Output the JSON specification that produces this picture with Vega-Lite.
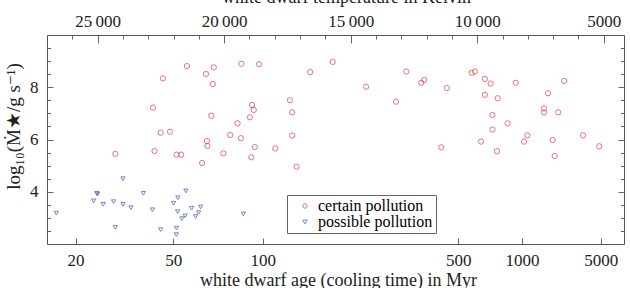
{
  "$schema": "https://vega.github.io/schema/vega-lite/v6.json",
  "width": 577,
  "height": 209,
  "autosize": {"type": "none"},
  "padding": {"left": 47, "top": 35, "right": 6, "bottom": 44},
  "background": "white",
  "config": {
    "view": {"stroke": "#555", "strokeWidth": 1},
    "axis": {
      "domain": false, "grid": false, "tickColor": "#666", "tickWidth": 1,
      "labelFont": "Liberation Serif", "labelFontSize": 17, "labelColor": "#222",
      "titleFont": "Liberation Serif", "titleFontSize": 18, "titleFontWeight": "normal", "titleColor": "#222"
    }
  },
  "datasets": {
    "pts": [
      {"T": 24300, "logM": 5.45, "type": "certain pollution"},
      {"T": 22810, "logM": 7.22, "type": "certain pollution"},
      {"T": 22750, "logM": 5.56, "type": "certain pollution"},
      {"T": 22510, "logM": 6.26, "type": "certain pollution"},
      {"T": 22420, "logM": 8.34, "type": "certain pollution"},
      {"T": 22140, "logM": 6.30, "type": "certain pollution"},
      {"T": 21880, "logM": 5.42, "type": "certain pollution"},
      {"T": 21700, "logM": 5.42, "type": "certain pollution"},
      {"T": 21470, "logM": 8.81, "type": "certain pollution"},
      {"T": 20870, "logM": 5.10, "type": "certain pollution"},
      {"T": 20720, "logM": 8.51, "type": "certain pollution"},
      {"T": 20680, "logM": 5.94, "type": "certain pollution"},
      {"T": 20660, "logM": 5.75, "type": "certain pollution"},
      {"T": 20510, "logM": 6.91, "type": "certain pollution"},
      {"T": 20450, "logM": 8.12, "type": "certain pollution"},
      {"T": 20410, "logM": 8.76, "type": "certain pollution"},
      {"T": 20030, "logM": 5.47, "type": "certain pollution"},
      {"T": 19760, "logM": 6.17, "type": "certain pollution"},
      {"T": 19470, "logM": 6.62, "type": "certain pollution"},
      {"T": 19340, "logM": 6.05, "type": "certain pollution"},
      {"T": 19320, "logM": 8.90, "type": "certain pollution"},
      {"T": 18980, "logM": 6.85, "type": "certain pollution"},
      {"T": 18930, "logM": 5.32, "type": "certain pollution"},
      {"T": 18900, "logM": 7.32, "type": "certain pollution"},
      {"T": 18830, "logM": 7.13, "type": "certain pollution"},
      {"T": 18790, "logM": 5.71, "type": "certain pollution"},
      {"T": 18620, "logM": 8.88, "type": "certain pollution"},
      {"T": 17980, "logM": 5.66, "type": "certain pollution"},
      {"T": 17400, "logM": 7.50, "type": "certain pollution"},
      {"T": 17310, "logM": 7.04, "type": "certain pollution"},
      {"T": 17310, "logM": 6.15, "type": "certain pollution"},
      {"T": 17140, "logM": 4.96, "type": "certain pollution"},
      {"T": 16600, "logM": 8.58, "type": "certain pollution"},
      {"T": 15710, "logM": 8.97, "type": "certain pollution"},
      {"T": 14390, "logM": 8.02, "type": "certain pollution"},
      {"T": 13210, "logM": 7.45, "type": "certain pollution"},
      {"T": 12800, "logM": 8.60, "type": "certain pollution"},
      {"T": 12210, "logM": 8.17, "type": "certain pollution"},
      {"T": 12090, "logM": 8.28, "type": "certain pollution"},
      {"T": 11420, "logM": 5.70, "type": "certain pollution"},
      {"T": 11200, "logM": 7.97, "type": "certain pollution"},
      {"T": 10220, "logM": 8.55, "type": "certain pollution"},
      {"T": 10090, "logM": 8.60, "type": "certain pollution"},
      {"T": 9850, "logM": 5.92, "type": "certain pollution"},
      {"T": 9700, "logM": 8.32, "type": "certain pollution"},
      {"T": 9700, "logM": 7.71, "type": "certain pollution"},
      {"T": 9470, "logM": 8.14, "type": "certain pollution"},
      {"T": 9400, "logM": 6.94, "type": "certain pollution"},
      {"T": 9400, "logM": 6.38, "type": "certain pollution"},
      {"T": 9220, "logM": 5.55, "type": "certain pollution"},
      {"T": 9190, "logM": 7.58, "type": "certain pollution"},
      {"T": 8800, "logM": 6.62, "type": "certain pollution"},
      {"T": 8480, "logM": 8.17, "type": "certain pollution"},
      {"T": 8150, "logM": 5.92, "type": "certain pollution"},
      {"T": 8020, "logM": 6.16, "type": "certain pollution"},
      {"T": 7360, "logM": 7.19, "type": "certain pollution"},
      {"T": 7360, "logM": 7.03, "type": "certain pollution"},
      {"T": 7200, "logM": 7.77, "type": "certain pollution"},
      {"T": 7020, "logM": 5.98, "type": "certain pollution"},
      {"T": 6940, "logM": 5.37, "type": "certain pollution"},
      {"T": 6800, "logM": 7.04, "type": "certain pollution"},
      {"T": 6560, "logM": 8.24, "type": "certain pollution"},
      {"T": 5820, "logM": 6.16, "type": "certain pollution"},
      {"T": 5180, "logM": 5.74, "type": "certain pollution"},
      {"T": 26630, "logM": 3.18, "type": "possible pollution"},
      {"T": 25160, "logM": 3.65, "type": "possible pollution"},
      {"T": 25030, "logM": 3.94, "type": "possible pollution"},
      {"T": 25000, "logM": 3.91, "type": "possible pollution"},
      {"T": 24780, "logM": 3.52, "type": "possible pollution"},
      {"T": 24370, "logM": 3.62, "type": "possible pollution"},
      {"T": 24300, "logM": 2.64, "type": "possible pollution"},
      {"T": 24000, "logM": 4.50, "type": "possible pollution"},
      {"T": 24000, "logM": 3.52, "type": "possible pollution"},
      {"T": 23680, "logM": 3.39, "type": "possible pollution"},
      {"T": 23190, "logM": 3.94, "type": "possible pollution"},
      {"T": 22830, "logM": 3.31, "type": "possible pollution"},
      {"T": 22510, "logM": 2.55, "type": "possible pollution"},
      {"T": 22000, "logM": 3.56, "type": "possible pollution"},
      {"T": 21880, "logM": 2.61, "type": "possible pollution"},
      {"T": 21890, "logM": 2.36, "type": "possible pollution"},
      {"T": 21840, "logM": 3.24, "type": "possible pollution"},
      {"T": 21830, "logM": 3.77, "type": "possible pollution"},
      {"T": 21670, "logM": 2.97, "type": "possible pollution"},
      {"T": 21540, "logM": 3.08, "type": "possible pollution"},
      {"T": 21510, "logM": 4.03, "type": "possible pollution"},
      {"T": 21290, "logM": 3.37, "type": "possible pollution"},
      {"T": 21130, "logM": 3.05, "type": "possible pollution"},
      {"T": 21010, "logM": 3.20, "type": "possible pollution"},
      {"T": 20930, "logM": 3.42, "type": "possible pollution"},
      {"T": 19240, "logM": 3.15, "type": "possible pollution"}
    ]
  },
  "data": {"name": "pts"},
  "layer": [
    {
      "transform": [{"filter": "datum.type === 'certain pollution'"}],
      "mark": {"type": "point", "filled": false, "strokeWidth": 1, "size": 28},
      "encoding": {
        "x": {"field": "T", "type": "quantitative",
          "scale": {"domain": [4200, 27000], "reverse": true, "nice": false, "zero": false},
          "axis": {"orient": "top", "values": [25000, 20000, 15000, 10000, 5000], "tickSize": -8,
            "labelPadding": 17, "labelBaseline": "alphabetic", "labelFlush": false,
            "labelExpr": "datum.value == 5000 ? '5000' : replace(format(datum.value, ','), ',', '\u2009')",
            "title": "white dwarf temperature in Kelvin", "titleBaseline": "alphabetic",
            "titleY": -33, "titleX": 299, "titleAlign": "center"}},
        "y": {"field": "logM", "type": "quantitative",
          "scale": {"domain": [2, 10], "nice": false, "zero": false},
          "axis": {"orient": "left", "values": [4, 6, 8], "tickSize": -6, "labelPadding": 15,
            "title": "log₁₀(Ṁ★/g s⁻¹)", "titleX": -28, "titleY": 91, "titleBaseline": "alphabetic",
            "titleAngle": -90, "titleAlign": "center", "titleFontSize": 19}},
        "color": {"field": "type", "type": "nominal",
          "scale": {"domain": ["certain pollution", "possible pollution"], "range": ["#e0393e", "#4152a6"]},
          "legend": {"title": null, "orient": "none", "legendX": 240, "legendY": 160, "padding": 3,
            "strokeColor": "#666", "fillColor": "white", "labelFont": "Liberation Serif", "labelFontSize": 16,
            "symbolSize": 20, "symbolStrokeWidth": 1, "rowPadding": 0, "symbolOffset": 7, "labelOffset": 5,
            "encode": {"labels": {"update": {"fill": {"signal": "datum.value === 'certain pollution' ? '#d9232b' : '#3a4c9e'"}}}}}},
        "shape": {"field": "type", "type": "nominal",
          "scale": {"domain": ["certain pollution", "possible pollution"], "range": ["circle", "triangle-down"]}}
      }
    },
    {
      "transform": [{"filter": "datum.type === 'possible pollution'"}],
      "mark": {"type": "point", "filled": false, "strokeWidth": 1, "size": 18},
      "encoding": {
        "x": {"field": "T", "type": "quantitative",
          "scale": {"domain": [4200, 27000], "reverse": true, "nice": false, "zero": false},
          "axis": {"orient": "bottom", "values": [25870, 22012, 18478, 10747, 8229, 5119], "tickSize": -6,
            "labelPadding": 27, "labelBaseline": "alphabetic", "labelFlush": false,
            "labelExpr": "datum.value > 25000 ? '20' : datum.value > 20000 ? '50' : datum.value > 15000 ? '100' : datum.value > 10000 ? '500' : datum.value > 7000 ? '1000' : '5000'",
            "title": "white dwarf age (cooling time) in Myr", "titleBaseline": "alphabetic",
            "titleY": 41, "titleX": 291, "titleAlign": "center"}},
        "y": {"field": "logM", "type": "quantitative",
          "scale": {"domain": [2, 10], "nice": false, "zero": false},
          "axis": {"orient": "right", "values": [4, 6, 8], "tickSize": -6, "labels": false, "title": null}},
        "color": {"field": "type", "type": "nominal",
          "scale": {"domain": ["certain pollution", "possible pollution"], "range": ["#e0393e", "#4152a6"]}},
        "shape": {"field": "type", "type": "nominal",
          "scale": {"domain": ["certain pollution", "possible pollution"], "range": ["circle", "triangle-down"]}}
      }
    },
    {
      "mark": {"type": "point", "opacity": 0},
      "encoding": {
        "x": {"field": "T", "type": "quantitative",
          "scale": {"domain": [4200, 27000], "reverse": true, "nice": false, "zero": false},
          "axis": {"orient": "top", "values": [5000, 6000, 7000, 8000, 9000, 10000, 11000, 12000, 13000, 14000, 15000, 16000, 17000, 18000, 19000, 20000, 21000, 22000, 23000, 24000, 25000, 26000],
            "tickSize": -4, "labels": false, "title": null}},
        "y": {"field": "logM", "type": "quantitative",
          "scale": {"domain": [2, 10], "nice": false, "zero": false},
          "axis": {"orient": "left", "values": [2.5, 3, 3.5, 4.5, 5, 5.5, 6.5, 7, 7.5, 8.5, 9, 9.5],
            "tickSize": -3.5, "labels": false, "title": null}}
      }
    },
    {
      "mark": {"type": "point", "opacity": 0},
      "encoding": {
        "x": {"field": "T", "type": "quantitative",
          "scale": {"domain": [4200, 27000], "reverse": true, "nice": false, "zero": false},
          "axis": null},
        "y": {"field": "logM", "type": "quantitative",
          "scale": {"domain": [2, 10], "nice": false, "zero": false},
          "axis": {"orient": "right", "values": [2.5, 3, 3.5, 4.5, 5, 5.5, 6.5, 7, 7.5, 8.5, 9, 9.5],
            "tickSize": -3.5, "labels": false, "title": null}}
      }
    }
  ],
  "resolve": {"axis": {"x": "independent", "y": "independent"}}
}
